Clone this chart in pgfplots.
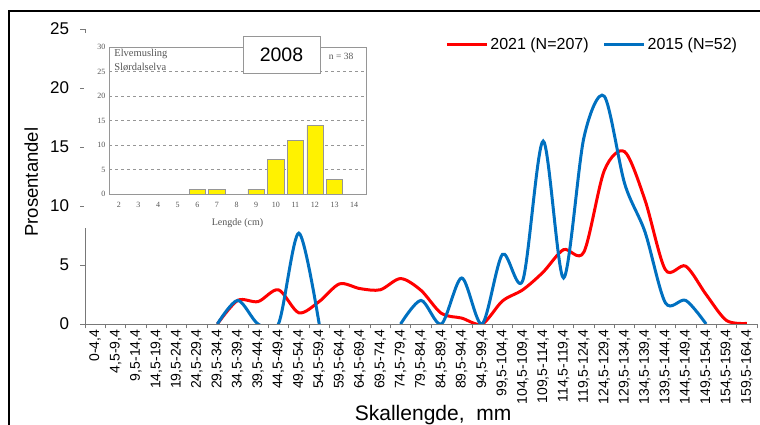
\documentclass[border=0pt]{standalone}
\usepackage{fontspec}
\setmainfont{Liberation Sans}
\newfontfamily\insetfont{Liberation Serif}
\usepackage{pgfplots}
\pgfplotsset{compat=1.18}
\usepackage{pgfplotstable}
\definecolor{exred}{RGB}{255,0,0}
\definecolor{exblue}{RGB}{0,112,192}
\definecolor{axgray}{RGB}{120,120,120}
\definecolor{insetgray}{RGB}{150,150,150}
\definecolor{insettext}{RGB}{85,85,85}

\pgfplotstableread{
x r b
0 nan nan
1 nan nan
2 nan nan
3 nan nan
4 nan nan
5 nan nan
6 0 0
7 2.0 2.0
8 1.9 0
9 2.9 0
10 0.95 7.7
11 1.9 0
12 3.4 nan
13 3.0 nan
14 2.9 nan
15 3.85 0
16 2.85 2.0
17 0.9 0
18 0.5 3.9
19 0 0
20 1.95 5.9
21 2.9 3.7
22 4.4 15.5
23 6.3 3.9
24 6.1 15.8
25 13.0 19.3
26 14.6 11.9
27 10.5 7.8
28 4.6 1.8
29 4.9 2.0
30 2.5 0
31 0.3 nan
32 0.05 nan
}\datatable

\begin{document}
\begin{tikzpicture}
\clip (0pt,0pt) rectangle (760pt,425pt);
\draw[line width=1.2pt] (9pt,-5pt) -- (9pt,414pt) -- (765pt,414pt);
\begin{axis}[
  at={(85pt,101pt)}, anchor=south west,
  scale only axis, width=672pt, height=295pt,
  xmin=-0.5, xmax=32.5, ymin=0, ymax=25,
  axis lines*=left,
  axis line style={axgray, line width=0.8pt},
  tick align=outside,
  major tick length=4.5pt,
  minor tick length=4.5pt,
  ytick={0,5,...,25},
  y tick style={axgray, line width=0.8pt},
  xtick={0,...,32},
  major x tick style={draw=none},
  minor xtick={-0.5,0.5,...,32.5},
  minor x tick style={axgray, line width=0.8pt},
  xticklabels={{0-4,4},{4,5-9,4},{9,5-14,4},{14,5-19,4},{19,5-24,4},{24,5-29,4},{29,5-34,4},{34,5-39,4},{39,5-44,4},{44,5-49,4},{49,5-54,4},{54,5-59,4},{59,5-64,4},{64,5-69,4},{69,5-74,4},{74,5-79,4},{79,5-84,4},{84,5-89,4},{89,5-94,4},{94,5-99,4},{99,5-104,4},{104,5-109,4},{109,5-114,4},{114,5-119,4},{119,5-124,4},{124,5-129,4},{129,5-134,4},{134,5-139,4},{139,5-144,4},{144,5-149,4},{149,5-154,4},{154,5-159,4},{159,5-164,4}},
  xticklabel style={rotate=90, anchor=east, font=\fontsize{14}{14}\selectfont, inner sep=1pt},
  yticklabel style={font=\fontsize{17}{17}\selectfont, xshift=-8pt},
  /pgf/number format/assume math mode=true,
  xlabel={Skallengde, \ mm},
  xlabel style={at={(axis description cs:0.518,-0.327)}, anchor=base, font=\fontsize{21}{21}\selectfont},
  ylabel={Prosentandel},
  ylabel style={at={(axis description cs:-0.080,0.481)}, anchor=center, font=\fontsize{18.5}{18.5}\selectfont},
  legend style={at={(axis description cs:0.536,0.949)}, anchor=west, draw=none, fill=none, inner sep=0pt,
    font=\fontsize{16}{16}\selectfont, /tikz/every even column/.append style={column sep=12pt}},
  legend columns=2,
  legend image code/.code={\draw[#1, line width=3pt] (0pt,0pt) -- (40pt,0pt);},
]
\addplot[exred, line width=3pt, smooth] table[x=x, y=r] {\datatable};
\addlegendentry{2021 (N=207)}
\addplot[exblue, line width=3pt, smooth, restrict x to domain=5.5:11.5] table[x=x, y=b] {\datatable};
\addlegendentry{2015 (N=52)}
\addplot[exblue, line width=3pt, smooth, restrict x to domain=14.5:30.5, forget plot] table[x=x, y=b] {\datatable};
\end{axis}

\fill[white] (84pt,197pt) rectangle (372pt,392pt);

\begin{axis}[
  at={(109pt,231pt)}, anchor=south west,
  scale only axis, width=257pt, height=147pt,
  xmin=1.5, xmax=14.6, ymin=0, ymax=30,
  xtick={2,...,14}, ytick={0,5,...,30},
  axis line style={insetgray, line width=0.7pt},
  ymajorgrids,
  grid style={insetgray, line width=0.5pt, dash pattern=on 3pt off 3pt},
  tick style={draw=none},
  ticklabel style={font=\insetfont\fontsize{8}{8}\selectfont, text=insettext},
  /pgf/number format/assume math mode=true,
  xlabel={Lengde (cm)},
  xlabel style={at={(axis description cs:0.5,-0.197)}, anchor=center, font=\insetfont\fontsize{10}{10}\selectfont, text=insettext},
  ybar, bar width=0.83,
]
\addplot[fill=yellow, draw=insetgray, line width=0.7pt] coordinates {(6,1) (7,1) (9,1) (10,7) (11,11) (12,14) (13,3)};
\node[anchor=west, font=\insetfont\fontsize{10.5}{10.5}\selectfont, text=insettext, inner sep=0pt] at (axis description cs:0.02,0.952) {Elvemusling};
\node[anchor=west, font=\insetfont\fontsize{10.5}{10.5}\selectfont, text=insettext, inner sep=0pt] at (axis description cs:0.02,0.864) {Slørdalselva};
\node[anchor=center, font=\insetfont\fontsize{9.5}{9.5}\selectfont, text=insettext, inner sep=0pt] at (axis description cs:0.903,0.939) {n = 38};
\end{axis}

\node[draw=insetgray, fill=white, line width=0.8pt, minimum width=77pt, minimum height=37pt, inner sep=0pt,
  font=\fontsize{19.5}{19.5}\selectfont] at (281.5pt,370.5pt) {2008};
\end{tikzpicture}
\end{document}
